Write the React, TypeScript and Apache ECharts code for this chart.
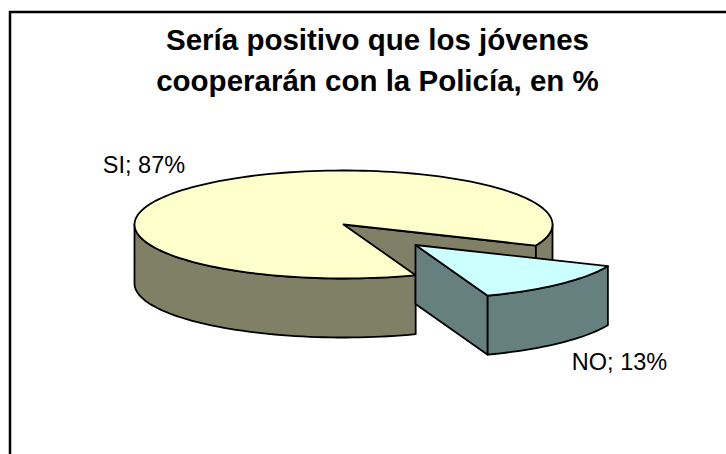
import React, { useEffect, useRef } from "react";
import * as echarts from "echarts";

const titleLines = ["Sería positivo que los jóvenes", "cooperarán con la Policía, en %"];
const categories = ["SI", "NO"];
const values = [87, 13];

const CX = 343.5, CY = 224.5, RX = 209, RY = 54, DEPTH = 59;
const EXPLODE_X = 72, EXPLODE_Y = 20.5;
const START_DEG = 23;

const colors = [
  { top: "#FFFFCC", side: "#808066" },
  { top: "#CCFFFF", side: "#668080" },
];
const labelPos = [
  { x: 144, y: 165 },
  { x: 619.5, y: 362 },
];

function arc(cx: number, cy: number, a0: number, a1: number, dy = 0): number[][] {
  const n = Math.max(2, Math.ceil(Math.abs(a1 - a0) / 2));
  const pts: number[][] = [];
  for (let i = 0; i <= n; i++) {
    const t = ((a0 + ((a1 - a0) * i) / n) * Math.PI) / 180;
    pts.push([cx + RX * Math.cos(t), cy + RY * Math.sin(t) + dy]);
  }
  return pts;
}

function poly(points: number[][], fill: string) {
  return {
    type: "polygon",
    shape: { points },
    style: { fill, stroke: "#000", lineWidth: 1.8, lineJoin: "round" },
  };
}

function wall(cx: number, cy: number, a0: number, a1: number, fill: string) {
  return poly([...arc(cx, cy, a0, a1), ...arc(cx, cy, a0, a1, DEPTH).reverse()], fill);
}

function renderItem(params: any, api: any) {
  const idx = params.dataIndex;
  const total = values.reduce((a, b) => a + b, 0);
  const sweep = (api.value(1) / total) * 360;
  const c = colors[idx];
  const children: any[] = [];
  if (idx === 0) {
    const a0 = START_DEG + (values[1] / total) * 360;
    const a1 = a0 + sweep;
    const e = arc(CX, CY, START_DEG, START_DEG)[0];
    children.push(poly([[CX, CY], e, [e[0], e[1] + DEPTH], [CX, CY + DEPTH]], c.side));
    children.push(wall(CX, CY, 0, START_DEG, c.side));
    children.push(wall(CX, CY, a0, 180, c.side));
    children.push(poly([[CX, CY], ...arc(CX, CY, a0, a1)], c.top));
  } else {
    const a0 = START_DEG;
    const a1 = a0 + sweep;
    const cx = CX + EXPLODE_X, cy = CY + EXPLODE_Y;
    const e = arc(cx, cy, a1, a1)[0];
    children.push(poly([[cx, cy], e, [e[0], e[1] + DEPTH], [cx, cy + DEPTH]], c.side));
    children.push(wall(cx, cy, a0, a1, c.side));
    children.push(poly([[cx, cy], ...arc(cx, cy, a0, a1)], c.top));
  }
  children.push({
    type: "text",
    x: labelPos[idx].x,
    y: labelPos[idx].y,
    style: {
      text: `${categories[idx]}; ${api.value(1)}%`,
      fontFamily: "Liberation Sans",
      fontSize: 23.5,
      fill: "#000",
      align: "center",
      verticalAlign: "middle",
    },
  });
  return { type: "group", children };
}

export default function App() {
  const ref = useRef<HTMLDivElement>(null);
  useEffect(() => {
    const chart = echarts.init(ref.current!, null, { renderer: "svg" });
    chart.setOption({
      animation: false,
      backgroundColor: "#fff",
      graphic: [
        {
          type: "polyline",
          shape: { points: [[10, 460], [10, 12], [730, 12]] },
          style: { fill: "none", stroke: "#000", lineWidth: 2.5 },
          silent: true,
        },
        ...titleLines.map((t, i) => ({
          type: "text",
          x: 377.5,
          y: 39 + i * 41,
          style: {
            text: t,
            fontFamily: "Liberation Sans",
            fontWeight: "bold",
            fontSize: 29.5,
            fill: "#000",
            align: "center",
            verticalAlign: "middle",
          },
        })),
      ],
      series: [
        {
          type: "custom",
          coordinateSystem: "none",
          silent: true,
          renderItem,
          data: categories.map((name, i) => ({ name, value: [i, values[i]] })),
        },
      ],
    });
    return () => chart.dispose();
  }, []);
  return <div ref={ref} style={{ position: "absolute", left: 0, top: 0, width: 726, height: 454 }} />;
}
